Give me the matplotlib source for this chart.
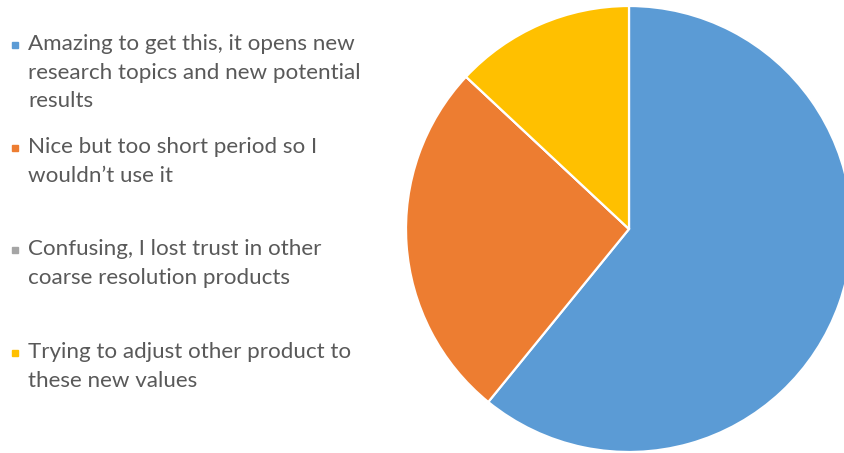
import matplotlib
matplotlib.use("Agg")
import matplotlib.pyplot as plt
from matplotlib.patches import Rectangle

# Antworten der Umfrage (Anzahl Nennungen)
labels = [
    "Amazing to get this, it opens new\nresearch topics and new potential\nresults",
    "Nice but too short period so I\nwouldn\u2019t use it",
    "Confusing, I lost trust in other\ncoarse resolution products",
    "Trying to adjust other product to\nthese new values",
]
counts = [14, 6, 0, 3]
colors = ["#5B9BD5", "#ED7D31", "#A5A5A5", "#FFC000"]

W, H = 844, 453
fig = plt.figure(figsize=(W / 100, H / 100), dpi=100)

# Kreisdiagramm rechts, ragt leicht über den rechten Rand hinaus
cx, cy, r = 629, 229, 223
ax = fig.add_axes([(cx - r) / W, (H - cy - r) / H, 2 * r / W, 2 * r / H])
ax.pie(counts, colors=colors, startangle=90, counterclock=False,
       radius=1.0, wedgeprops=dict(edgecolor="white", linewidth=1.6))
ax.set_xlim(-1, 1)
ax.set_ylim(-1, 1)
ax.set_aspect("equal")
ax.axis("off")

# Legende links, von Hand gesetzt
text_y = [45, 148, 250, 353]   # Mitte der ersten Zeile je Eintrag (px von oben)
for lab, col, y in zip(labels, colors, text_y):
    fig.text(28 / W, 1 - (y - 11) / H, lab, fontsize=16.1, family="Lato",
             color="#595959", va="top", ha="left", linespacing=1.54)
    fig.patches.append(Rectangle((12 / W, 1 - (y + 3) / H), 6 / W, 6 / H,
                                 transform=fig.transFigure, color=col))

fig.savefig("out.png", dpi=100)
